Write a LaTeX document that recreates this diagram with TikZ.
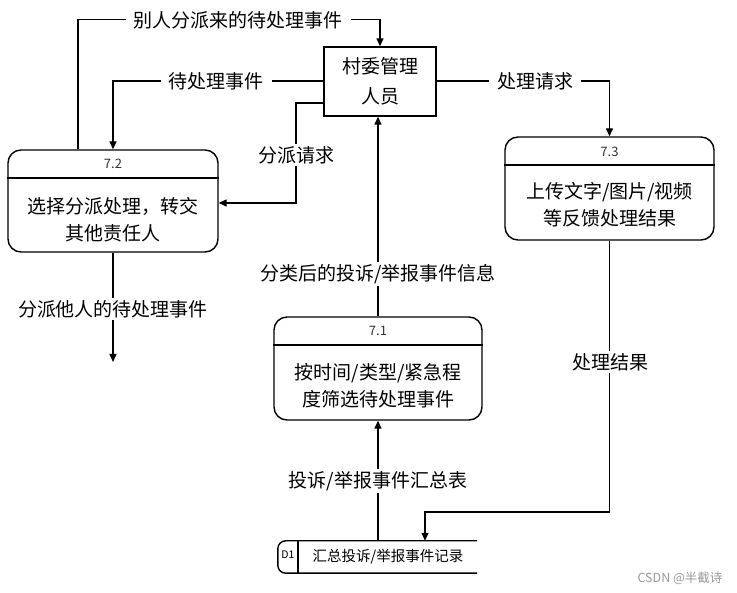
\documentclass[tikz,border=0pt]{standalone}
\usepackage{fontspec}
\setmainfont{Noto Sans CJK SC}
\usetikzlibrary{arrows.meta,calc}
\tikzset{
  ln/.style={line width=1.4pt},
  arr/.style={ln,-{Triangle[length=8pt,width=7pt]}},
  proc/.style={draw,ln,rounded corners=13pt,inner sep=0pt},
  ent/.style={draw,ln,inner sep=0pt},
  txt/.style={font=\fontsize{19}{27}\selectfont,align=center,inner sep=0pt},
  num/.style={font=\fontsize{13}{14}\selectfont,text=black!80,inner sep=0pt},
  lbl/.style={font=\fontsize{19}{20}\selectfont,fill=white,inner xsep=8pt,inner ysep=2pt},
}
\begin{document}
\begin{tikzpicture}[x=1pt,y=-1pt]
\useasboundingbox[fill=white] (0,0) rectangle (737,593);
% entity
\node[ent,minimum width=112pt,minimum height=69pt] (cw) at (380,81.5) {};
\node[txt,font=\fontsize{19}{30}\selectfont] (cwt) at (cw) {村委管理\\人员};
% process 7.2
\node[proc,minimum width=210pt,minimum height=102pt] (p72) at (113,201) {};
\draw[ln] (p72.west |- 0,178) -- (p72.east |- 0,178);
\node[num] (n72) at (113,164) {7.2};
\node[txt] (t72) at (113,219.5) {选择分派处理，转交\\其他责任人};
% process 7.3
\node[proc,minimum width=209pt,minimum height=103pt] (p73) at (609.5,188.5) {};
\draw[ln] (p73.west |- 0,165) -- (p73.east |- 0,165);
\node[num] (n73) at (609.5,152) {7.3};
\node[txt] (t73) at (609.5,205) {上传文字/图片/视频\\等反馈处理结果};
% process 7.1
\node[proc,minimum width=208pt,minimum height=103pt] (p71) at (378,368.5) {};
\draw[ln] (p71.west |- 0,345) -- (p71.east |- 0,345);
\node[num] (n71) at (378,331) {7.1};
\node[txt] (t71) at (378,386) {按时间/类型/紧急程\\度筛选待处理事件};
% data store D1
\node[minimum width=199pt,minimum height=32pt,inner sep=0pt] (d1) at (377.5,557) {};
\draw[ln,rounded corners=8pt] (d1.north east) -- (d1.north west) -- (d1.south west) -- (d1.south east);
\draw[ln] (298,541) -- (298,573);
\node[font=\fontsize{10.5}{12}\selectfont,inner sep=0pt] (d1id) at (288,555) {D1};
\node[font=\fontsize{14.5}{16}\selectfont,inner sep=0pt] (d1t) at (388,557) {汇总投诉/举报事件记录};
% connectors
\coordinate (c1) at (78,20);
\draw[arr] (p72.north -| c1) |- ([yshift=27pt]cw.north) -- (cw.north);
\draw[arr] (cw.west |- 0,81) -| (p72.north);
\draw[arr] (cw.west |- 0,103) -| (296,203) -- (p72.east |- 0,203);
\coordinate (c2) at (113,362);
\draw[arr] (p72.south) -- (c2);
\draw[arr] (cw.east |- 0,81) -| (p73.north);
\coordinate (c3) at (425,512);
\draw[arr] (p73.south) |- (c3) -- (d1.north -| c3);
\draw[arr] (p71.north) -- (cw.south -| p71.north);
\draw[arr] (d1.north -| p71.south) -- (p71.south);
% labels
\node[lbl] (l1) at (238,20) {别人分派来的待处理事件};
\node[lbl] (l2) at (216,81) {待处理事件};
\node[lbl] (l3) at (296,155) {分派请求};
\node[lbl] (l4) at (113,309) {分派他人的待处理事件};
\node[lbl] (l5) at (535,81) {处理请求};
\node[lbl] (l6) at (610,362) {处理结果};
\node[lbl] (l7) at (378,274) {分类后的投诉/举报事件信息};
\node[lbl] (l8) at (378,481) {投诉/举报事件汇总表};
\node[font=\fontsize{12.5}{14}\selectfont,text=black!40,inner sep=0pt] (wm) at (680,578) {CSDN @半截诗};
\end{tikzpicture}
\end{document}
